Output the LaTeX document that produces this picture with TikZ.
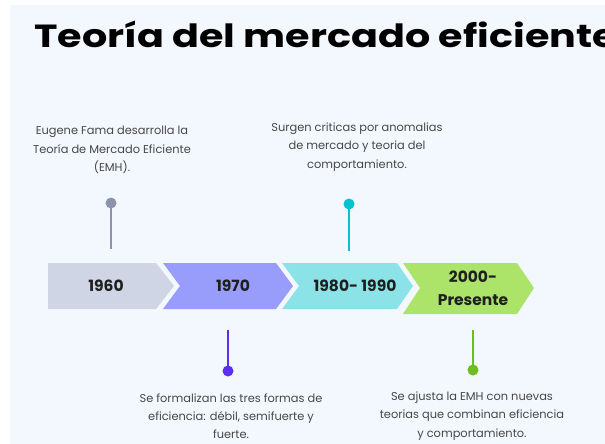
\documentclass[tikz,border=0pt]{standalone}
\usepackage{fontspec}
\setmainfont{Poppins}
\begin{document}
\begin{tikzpicture}[x=1pt,y=-1pt,
  bodytext/.style={align=center,text=black!72,font=\fontsize{11.4}{18.3}\selectfont,inner sep=0pt},
  yeartext/.style={align=center,text=black!88,font=\fontsize{15.5}{23}\selectfont\bfseries,inner sep=0pt},
  pinhead/.style={circle,fill=#1,inner sep=0pt,minimum size=11pt},
  pinline/.style={draw=#1,line width=2.2pt}]
\definecolor{bgc}{HTML}{F3F7FE}
\definecolor{cA}{HTML}{CFD5E5}
\definecolor{cB}{HTML}{989CFB}
\definecolor{cC}{HTML}{8BE3E8}
\definecolor{cD}{HTML}{ACE46A}
\definecolor{pA}{HTML}{8C93AE}
\definecolor{pB}{HTML}{5B2EF0}
\definecolor{pC}{HTML}{00C3CC}
\definecolor{pD}{HTML}{6DBE1C}
\useasboundingbox (0,0) rectangle (605,444);
\clip (0,0) rectangle (605,444);
\fill[bgc] (10,5) rectangle (605,444);
% title
\node[anchor=base west,inner sep=0pt,font=\fontsize{32}{40}\selectfont\bfseries] (title) at (34,48) {\scalebox{1.24}[1]{Teoría del mercado eficiente}};
% chevrons
\fill[cA] (48,263) -- (156,263) -- (174,286) -- (156,309) -- (48,309) -- cycle;
\fill[cB] (163,263) -- (276,263) -- (293,286) -- (276,309) -- (163,309) -- (180,286) -- cycle;
\fill[cC] (282,263) -- (397,263) -- (413,286) -- (397,309) -- (282,309) -- (299,286) -- cycle;
\fill[cD] (403,263) -- (517,263) -- (534,288) -- (517,314) -- (403,314) -- (420,288) -- cycle;
\node[yeartext] (y1) at (106,286) {1960};
\node[yeartext] (y2) at (233,286) {1970};
\node[yeartext] (y3) at (355,286) {1980- 1990};
\node[yeartext] (y4) at (473,288) {2000-\\Presente};
% pins
\node[pinhead=pA] (p1) at (111,203) {};
\coordinate (p1e) at (111,249);
\draw[pinline=pA] (p1.center) -- (p1e);
\node[pinhead=pC] (p3) at (349,204) {};
\coordinate (p3e) at (349,251);
\draw[pinline=pC] (p3.center) -- (p3e);
\node[pinhead=pB] (p2) at (228,371) {};
\coordinate (p2e) at (228,330);
\draw[pinline=pB] (p2.center) -- (p2e);
\node[pinhead=pD] (p4) at (473,370) {};
\coordinate (p4e) at (473,330);
\draw[pinline=pD] (p4.center) -- (p4e);
% texts
\node[bodytext] (t1) at (112,150) {Eugene Fama desarrolla la\\Teoría de Mercado Eficiente\\(EMH).};
\node[bodytext] (t3) at (357,147) {Surgen criticas por anomalias\\de mercado y teoria del\\comportamiento.};
\node[bodytext] (t2) at (231,416) {Se formalizan las tres formas de\\eficiencia: débil, semifuerte y\\fuerte.};
\node[bodytext] (t4) at (472,416) {Se ajusta la EMH con nuevas\\teorias que combinan eficiencia\\y comportamiento.};
\end{tikzpicture}
\end{document}
